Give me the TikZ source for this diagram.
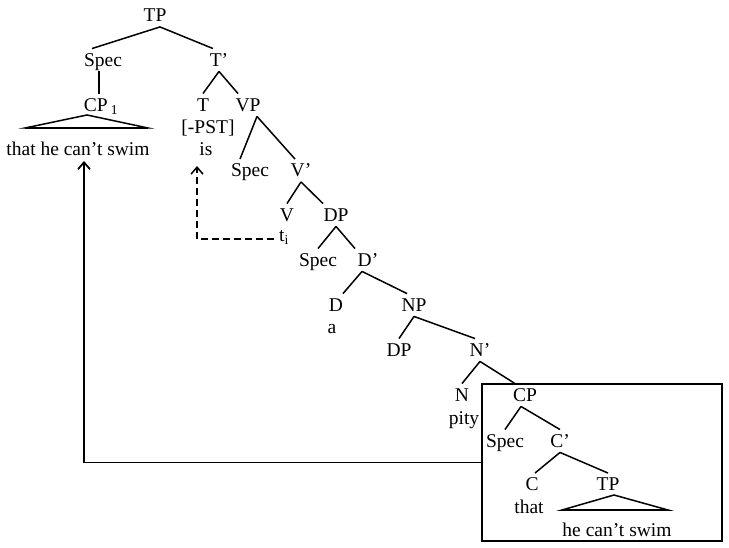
\documentclass[tikz,border=0pt]{standalone}
\usepackage{fontspec}
\setmainfont{Liberation Serif}
\usepackage{tikz}
\usetikzlibrary{positioning,arrows.meta}

\begin{document}
\begin{tikzpicture}[x=1pt,y=-1pt,font=\fontsize{19.5}{22}\selectfont,
  lbl/.style={inner sep=5pt,text height=12.5pt,text depth=0pt},
  br/.style={line width=1.5pt},
  frame/.style={draw,line width=1.8pt,minimum width=240pt,minimum height=157pt,inner sep=0pt},
  arr/.style={-{Straight Barb[length=7pt,width=12pt]},line width=1.7pt}]
\useasboundingbox (0,0) rectangle (729,548);
% TP
\node[lbl] (tp) at (155,15.5) {TP};
\node[lbl] (spec1) at (103,60) {Spec};
\node[lbl] (tbar) at (219,60) {T’};
\node[lbl] (cp1) at (101,105) {CP\,\textsubscript{1}};
\node[lbl] (clause1) at (78,149) {that he can’t swim};
\node[lbl] (t) at (203,105) {T};
\node[lbl] (pst) at (208,127) {[-PST]};
\node[lbl] (is) at (206,149) {is};
\node[lbl] (vp) at (248,105) {VP};
% VP
\node[lbl] (spec2) at (250,170.5) {Spec};
\node[lbl] (vbar) at (301,170.5) {V’};
\node[lbl] (v) at (287,215) {V};
\node[lbl] (dp) at (336,215) {DP};
\node[lbl] (ti) at (284,235) {t\textsubscript{i}};
% DP
\node[lbl] (spec3) at (318,260) {Spec};
\node[lbl] (dbar) at (368,260) {D’};
\node[lbl] (d) at (336,305) {D};
\node[lbl] (a) at (332,327.5) {a};
\node[lbl] (np) at (414,305) {NP};
\node[lbl] (dp2) at (399,350) {DP};
\node[lbl] (nbar) at (480,350) {N’};
\node[lbl] (n) at (462,395) {N};
\node[lbl] (pity) at (464,418) {pity};
% CP
\node[lbl] (cp2) at (525,395) {CP};
\node[lbl] (spec4) at (505,441) {Spec};
\node[lbl] (cbar) at (560,441) {C’};
\node[lbl] (c) at (532,484.5) {C};
\node[lbl] (that) at (529,507.5) {that};
\node[lbl] (tp2) at (608,484.5) {TP};
\node[lbl] (clause2) at (617,530) {he can’t swim};
% branches
\draw[br] ([xshift=5pt]tp.south) -- ([xshift=-11pt]spec1.north);
\draw[br] ([xshift=5pt]tp.south) -- ([xshift=-6pt]tbar.north);
\draw[br] ([xshift=-4pt]spec1.south) -- ([xshift=-4pt]spec1.south |- cp1.north);
\draw[br] (tbar.south) -- (t.north);
\draw[br] (tbar.south) -- ([xshift=-10pt]vp.north);
\draw[br] ([xshift=9pt]vp.south) -- ([xshift=-10pt]spec2.north);
\draw[br] ([xshift=9pt]vp.south) -- ([xshift=-6pt]vbar.north);
\draw[br] (vbar.south) -- (v.north);
\draw[br] (vbar.south) -- ([xshift=-13pt]dp.north);
\draw[br] (dp.south) -- (spec3.north);
\draw[br] (dp.south) -- ([xshift=-13pt]dbar.north);
\draw[br] ([xshift=-6pt]dbar.south) -- ([xshift=7pt]d.north);
\draw[br] ([xshift=-6pt]dbar.south) -- ([xshift=-7pt]np.north);
\draw[br] (np.south) -- (dp2.north);
\draw[br] (np.south) -- ([xshift=-5pt]nbar.north);
\draw[br] (nbar.south) -- (n.north);
\draw[br] (nbar.south) -- ([xshift=-10pt]cp2.north);
\draw[br] ([xshift=-4pt]cp2.south) -- (spec4.north);
\draw[br] ([xshift=-4pt]cp2.south) -- (cbar.north);
\draw[br] (cbar.south) -- ([xshift=3pt]c.north);
\draw[br] (cbar.south) -- (tp2.north);
% triangles
\draw[br] (87,115) -- (25,128) -- (148,128) -- cycle;
\draw[line width=2.2pt] (25,128) -- (148,128);
\draw[br] (614,495) -- (562,510) -- (668,510) -- cycle;
\draw[line width=2.2pt] (562,510) -- (668,510);
% box and movement
\node[frame] (box) at (602,462.5) {};
\coordinate (clausefoot) at (84,161);
\coordinate (isfoot) at (197,166);
\draw[arr] (box.west) -| (clausefoot);
\draw[arr,line width=1.5pt,dash pattern=on 7pt off 4pt] ([yshift=-4pt]ti.west) -| (isfoot);
\end{tikzpicture}
\end{document}
